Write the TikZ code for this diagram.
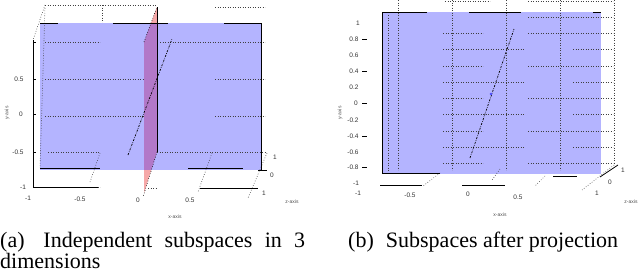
\documentclass[tikz,border=0pt]{standalone}
\usepackage{fontspec}
\setmainfont{Liberation Serif}
\newfontfamily\capfont{Liberation Serif}
\newfontfamily\lblfont{Liberation Sans}
\definecolor{bluefill}{RGB}{180,180,255}
\definecolor{pinkfill}{RGB}{246,168,168}
\definecolor{purplefill}{RGB}{178,120,200}
\begin{document}
\begin{tikzpicture}[x=1pt,y=-1pt,
  gridl/.style={black!75,line width=0.6pt,dash pattern=on 0.7pt off 1.8pt},
  axl/.style={black,line width=0.8pt},
  subl/.style={black,line width=0.7pt,dash pattern=on 2pt off 1.2pt on 0.6pt off 1.2pt},
  tick/.style={font=\lblfont\fontsize{6.5}{7}\selectfont,inner sep=0pt,text=black!80},
  axtitle/.style={font=\lblfont\fontsize{5}{5}\selectfont,inner sep=0pt,text=black!70},
  capt/.style={font=\capfont\fontsize{22}{21.5}\selectfont,inner sep=0pt,anchor=north west}]
\useasboundingbox (0,0) rectangle (640,274);
% ================= LEFT PLOT =================
\draw[gridl] (45,5) -- (157,5);
\draw[gridl] (215,7) -- (265,7);
\draw[gridl] (102,5) -- (102,153);
\draw[gridl] (45,5) -- (33,40);
\fill[bluefill] (40,23) rectangle (261,170);
\draw[gridl] (45,8) -- (40,168);
\draw[gridl] (45,42) -- (100,42) (160,42) -- (213,42) (215,42) -- (265,42);
\draw[gridl] (45,79) -- (157,79) (215,79) -- (265,79);
\draw[gridl] (45,116) -- (157,116) (215,116) -- (265,116);
\draw[gridl] (48,152) -- (100,152) (157,152) -- (265,152);
\draw[gridl] (100,153) -- (90,182);
\draw[gridl] (212,153) -- (198,192);
\draw[gridl] (267,153) -- (248,198);
\draw[gridl] (90,187) -- (100,187) (148,188) -- (157,188);
\fill[pinkfill] (151,23) -- (157,7) -- (157,23) -- cycle;
\fill[purplefill] (151,23) -- (157,23) -- (157,152) -- (151.3,170) -- (144,170) -- (144,42) -- cycle;
\fill[pinkfill] (144,170) -- (151.3,170) -- (144,193) -- cycle;
\coordinate (ra) at (144,42);
\coordinate (rb) at (157,7);
\coordinate (rc) at (157,152);
\coordinate (rd) at (143,197);
\draw[gridl,black] (ra) -- (rb);
\draw[axl,line width=0.7pt] (rb) -- (rc);
\draw[gridl,black] (rc) -- (rd);
\draw[axl] (40,23) -- (58,23) (113,23) -- (168,23) (224,23) -- (261,23);
\draw[axl] (261,23) -- (261,170);
\draw[axl] (40,168) -- (100,168) (188,168) -- (243,168);
\coordinate (la) at (128,155);
\coordinate (lb) at (172,39);
\draw[subl] (la) -- (lb);
\draw[axl] (33,40) -- (33,187) -- (98,187);
\draw[axl] (200,188) -- (258,188);
\draw[axl] (33,42) -- (36,42) (33,79) -- (36,79) (33,114) -- (36,114) (33,152) -- (36,152);
\draw[axl] (258,170) -- (267,170);
\node[tick] (ly1) at (19,79) {0.5};
\node[tick] (ly2) at (21,114) {0};
\node[tick] (ly3) at (18,152) {-0.5};
\node[tick] (ly4) at (23,187) {-1};
\node[tick] (lx1) at (28,198) {-1};
\node[tick] (lx2) at (80,199) {-0.5};
\node[tick] (lx3) at (138,200) {0};
\node[tick] (lx4) at (190,200) {0.5};
\node[tick] (lx5) at (264,193) {1};
\node[tick] (lz1) at (275,157) {1};
\node[tick] (lz2) at (272,175) {0};
\node[axtitle] (lxt) at (175,217) {x-axis};
\node[axtitle] (lzt) at (292,202) {z-axis};
\node[axtitle,rotate=90] (lyt) at (7,113) {y-axis};
% ================= RIGHT PLOT =================
\draw[gridl] (445,1) -- (490,1) (528,1) -- (613,1);
\fill[bluefill] (382,12) rectangle (601,174);
\foreach \xx in {398,452,506,560} {\draw[gridl] (\xx,0) -- (\xx,170);}
\draw[gridl] (614,0) -- (614,165);
\draw[gridl] (388,15) -- (388,172);
\draw[gridl] (528,17) -- (613,17);
\foreach \yy in {33,66,98,131,163} {\draw[gridl] (443,\yy) -- (483,\yy) (528,\yy) -- (613,\yy);}
\foreach \yy in {49,82,114,147} {\draw[gridl] (443,\yy) -- (525,\yy) (573,\yy) -- (613,\yy);}
\draw[gridl] (440,173) -- (423,186);
\draw[gridl] (500,169) -- (492,180);
\draw[gridl] (545,176) -- (535,186);
\draw[gridl] (614,165) -- (582,190);
\draw[axl] (382,12) -- (382,173);
\draw[axl] (382,12) -- (427,12) (469,12) -- (521,12) (593,12) -- (601,12);
\draw[axl] (382,173) -- (440,173);
\draw[axl] (380,185) -- (422,185) (462,185) -- (505,185) (553,176) -- (577,176);
\draw[axl] (600,177) -- (618,165);
\coordinate (ra2) at (470,158);
\coordinate (rb2) at (514,29);
\draw[subl] (ra2) -- (rb2);
\fill[blue!70] (491,94) circle (1.3pt);
\foreach \yy in {39,71,103,136,167} {\draw[axl,line width=0.6pt] (362,\yy) -- (367,\yy);}
\node[tick] (ry1) at (358,23) {1};
\node[tick] (ry2) at (354,39) {0.8};
\node[tick] (ry3) at (354,55) {0.6};
\node[tick] (ry4) at (354,71) {0.4};
\node[tick] (ry5) at (354,87) {0.2};
\node[tick] (ry6) at (356,103) {0};
\node[tick] (ry7) at (353,120) {-0.2};
\node[tick] (ry8) at (353,136) {-0.4};
\node[tick] (ry9) at (353,152) {-0.6};
\node[tick] (ry10) at (353,167) {-0.8};
\node[tick] (ry11) at (356,183) {-1};
\node[tick] (rx1) at (358,193) {-1};
\node[tick] (rx2) at (410,195) {-0.5};
\node[tick] (rx3) at (468,194) {0};
\node[tick] (rx4) at (518,197) {0.5};
\node[tick] (rx5) at (597,193) {1};
\node[tick] (rz1) at (623,170) {1};
\node[tick] (rz2) at (610,182) {0};
\node[axtitle] (rxt) at (500,215) {x-axis};
\node[axtitle] (rzt) at (631,202) {z-axis};
\node[axtitle,rotate=90] (ryt) at (340,113) {y-axis};
% ================= CAPTIONS =================
\node[capt,text width=305pt,align=justify] (capa) at (0,232) {(a)\hspace{0.3em} Independent subspaces in 3 \mbox{dimensions}};
\node[capt] (capb) at (348,232) {(b)\hspace{0.3em} Subspaces after projection};
\end{tikzpicture}
\end{document}
